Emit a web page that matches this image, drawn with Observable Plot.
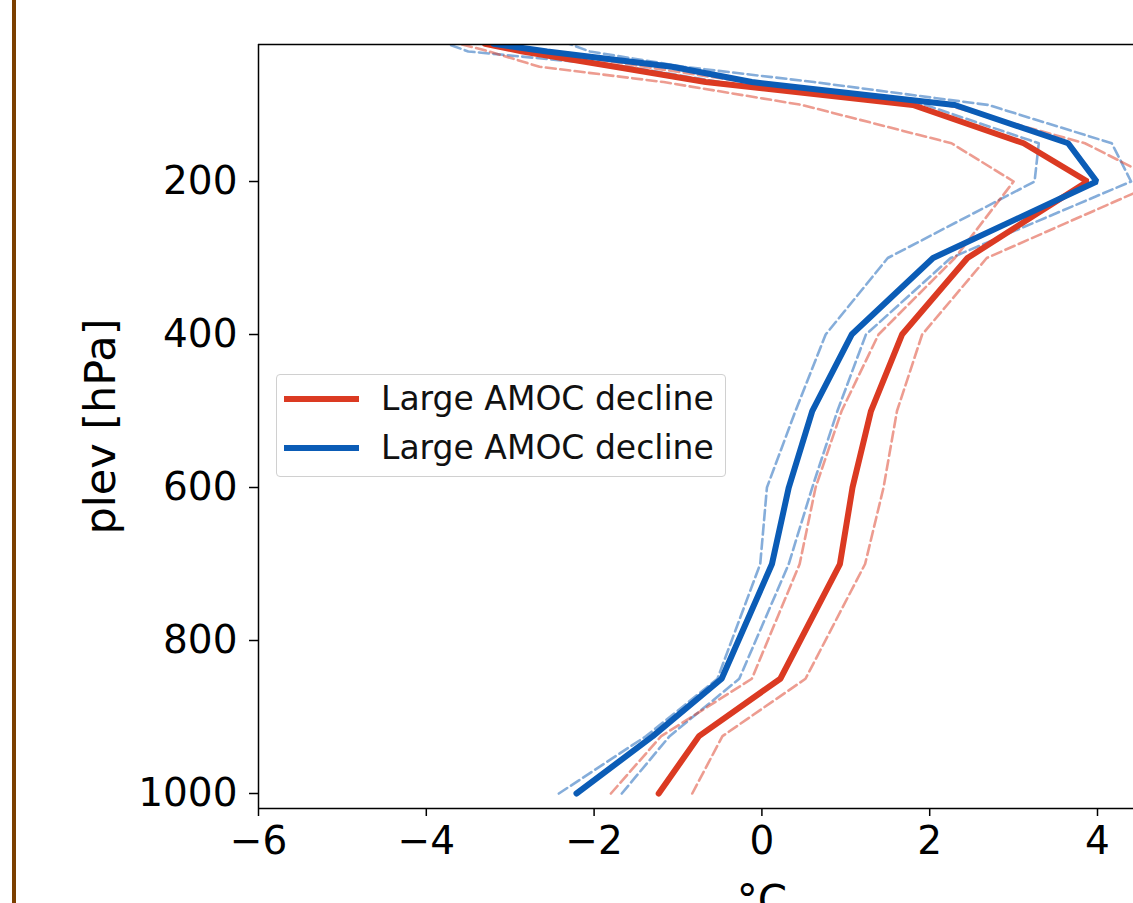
<!DOCTYPE html>
<html>
<head>
<meta charset="utf-8">
<script src="https://cdn.jsdelivr.net/npm/d3@7"></script>
<script src="https://cdn.jsdelivr.net/npm/@observablehq/plot@0.6"></script>
<style>
  html, body { margin: 0; padding: 0; background: #fff; overflow: hidden; }
  #wrap { position: relative; width: 1133px; height: 903px; font-family: "DejaVu Sans", sans-serif; }
  #border { position: absolute; left: 12px; top: 0; width: 4px; height: 903px; background: #7b3f00; }
  #legend { position: absolute; left: 276px; top: 374px; width: 450px; height: 103px; border: 1px solid #d0d0d0; border-radius: 4px; background: rgba(255,255,255,0.85); box-sizing: border-box; }
  .row { position: absolute; left: 0; height: 40px; }
  .sw { position: absolute; left: 7px; width: 75px; height: 6px; }
  .lab { position: absolute; left: 104px; font-size: 33px; line-height: 40px; white-space: nowrap; color: #111; }
</style>
</head>
<body>
<div id="wrap">
  <div id="border"></div>
  <div id="chart"></div>
  <div id="legend"></div>
</div>
<script>
// Pressure levels (hPa)
const levels = [1000, 925, 850, 700, 600, 500, 400, 300, 200, 150, 100, 70, 50, 30, 20];
// Temperature anomalies (°C)
const redMean  = [-1.23, -0.75, 0.22, 0.93, 1.08, 1.30, 1.67, 2.45, 3.88, 3.12, 1.80, -0.67, -1.75, -2.85, -3.30];
const redLow   = [-1.80, -1.20, -0.12, 0.45, 0.64, 0.95, 1.39, 2.30, 3.00, 2.26, 0.48, -1.17, -2.65, -3.25, -3.60];
const redHigh  = [-0.83, -0.47, 0.52, 1.23, 1.45, 1.61, 1.91, 2.68, 4.75, 3.85, 2.20, -0.20, -1.40, -2.60, -3.00];
const blueMean = [-2.21, -1.30, -0.48, 0.12, 0.32, 0.60, 1.07, 2.04, 3.99, 3.65, 2.30, -0.12, -1.07, -2.56, -3.20];
const blueLow  = [-2.42, -1.38, -0.53, -0.02, 0.06, 0.40, 0.76, 1.50, 3.25, 3.30, 1.95, -0.50, -1.60, -3.50, -3.75];
const blueHigh = [-1.67, -1.10, -0.27, 0.32, 0.60, 0.90, 1.24, 2.25, 4.40, 4.17, 2.70, 0.62, -0.93, -2.05, -2.30];
const legendLabels = ["Large AMOC decline", "Large AMOC decline"];
const xTicks = [-6, -4, -2, 0, 2, 4];
const yTicks = [200, 400, 600, 800, 1000];
const xLabel = "°C";
const yLabel = "plev [hPa]";

const rows = (name, vals) => levels.map((p, i) => ({series: name, p, t: vals[i]}));
const red = rows("redMean", redMean);
const blue = rows("blueMean", blueMean);
const redBand = [...rows("redLow", redLow), ...rows("redHigh", redHigh)];
const blueBand = [...rows("blueLow", blueLow), ...rows("blueHigh", blueHigh)];

const RED = "#db3a22", BLUE = "#0b5cb6";
const xDom = [-6, -6 + 875 / 83.9];
const yDom = [20.9, 1019.6];

const chart = Plot.plot({
  width: 1133,
  height: 903,
  marginLeft: 258,
  marginRight: 0,
  marginTop: 44,
  marginBottom: 95,
  style: {fontFamily: "DejaVu Sans", color: "#000", background: "transparent", overflow: "hidden"},
  x: {domain: xDom},
  y: {domain: yDom, reverse: true},
  marks: [
    Plot.line(blueBand, {x: "t", y: "p", z: "series", stroke: BLUE, strokeOpacity: 0.5, strokeWidth: 2.6, strokeDasharray: "10,4.5", clip: true}),
    Plot.line(redBand, {x: "t", y: "p", z: "series", stroke: RED, strokeOpacity: 0.5, strokeWidth: 2.6, strokeDasharray: "10,4.5", clip: true}),
    Plot.line(red, {x: "t", y: "p", stroke: RED, strokeWidth: 6, strokeLinejoin: "miter", clip: true}),
    Plot.line(blue, {x: "t", y: "p", stroke: BLUE, strokeWidth: 6, strokeLinejoin: "miter", clip: true}),
    Plot.ruleX([xDom[0]], {stroke: "#000", strokeWidth: 1.5}),
    Plot.ruleY(yDom, {stroke: "#000", strokeWidth: 1.5}),
    Plot.axisY(yTicks, {tickSize: 9, tickPadding: 12, fontSize: 39, strokeWidth: 1.5, label: null, tickFormat: d => String(d)}),
    Plot.axisX(xTicks, {tickSize: 8, tickPadding: 10, fontSize: 39, strokeWidth: 1.5, label: null}),
    Plot.text([yLabel], {frameAnchor: "left", dx: -157, rotate: -90, textAnchor: "middle", fontSize: 43, text: d => d}),
    Plot.text([0], {x: d => d, frameAnchor: "bottom", dy: 77, lineAnchor: "top", fontSize: 42, text: () => xLabel})
  ]
});
document.getElementById("chart").appendChild(chart);

// Legend
const leg = document.getElementById("legend");
[[RED, 4], [BLUE, 53]].forEach(([c, top], i) => {
  const r = document.createElement("div");
  r.className = "row";
  r.style.top = top + "px";
  r.innerHTML = `<div class="sw" style="top:17px;background:${c}"></div><div class="lab">${legendLabels[i]}</div>`;
  leg.appendChild(r);
});
</script>
</body>
</html>
